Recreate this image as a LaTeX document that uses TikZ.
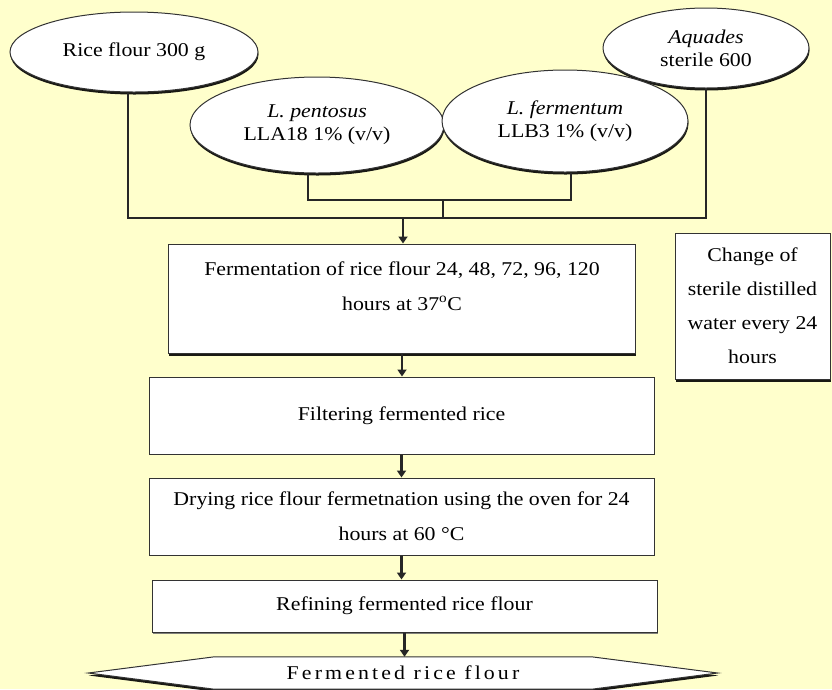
\documentclass[tikz,border=0pt]{standalone}
\usepackage{fontspec}
\setmainfont{Liberation Serif}[FakeStretch=1.12]
\usetikzlibrary{shapes.geometric,shadows,arrows.meta}
\definecolor{bgyellow}{HTML}{FFFFCC}
\definecolor{edge}{HTML}{333333}
\begin{document}
\begin{tikzpicture}[x=1pt,y=-1pt,
  darkshadow/.style={drop shadow={shadow xshift=0.5pt,shadow yshift=-2.5pt,fill=black,opacity=0.9}},
  grayshadow/.style={drop shadow={shadow xshift=0.5pt,shadow yshift=-2pt,fill=black!55,opacity=0.9}},
  oval/.style={ellipse,draw=edge,line width=1pt,fill=white,inner sep=0pt,align=center,
    font=\fontsize{19.5}{23}\selectfont,darkshadow},
  stepbox/.style={rectangle,draw=edge,line width=1pt,fill=white,inner sep=0pt,align=center,
    font=\fontsize{19.5}{35}\selectfont},
  conn/.style={line width=1.8pt,draw=black!85},
  flow/.style={line width=2.4pt,draw=black!85,-{Triangle[length=7pt,width=9pt]}},
]
\useasboundingbox (0,0) rectangle (832,689);
\fill[bgyellow] (0,0) rectangle (832,689);

% input ellipses
\node[oval,minimum width=248pt,minimum height=80pt] (rice) at (134,52) {Rice flour 300 g};
\node[oval,minimum width=206pt,minimum height=80pt] (aqua) at (706,48) {\textit{Aquades}\\sterile 600};
\node[oval,minimum width=254pt,minimum height=96pt] (pent) at (317,125) {\textit{L. pentosus}\\LLA18 1\% (v/v)};
\node[oval,minimum width=246pt,minimum height=102pt] (ferm) at (565,121) {\textit{L. fermentum}\\LLB3 1\% (v/v)};

% process boxes
\node[stepbox,darkshadow,minimum width=467pt,minimum height=109pt] (box1) at (402,298.5)
  {Fermentation of rice flour 24, 48, 72, 96, 120\\hours at 37\textsuperscript{o}C\\[-10pt]};
\node[stepbox,minimum width=505pt,minimum height=77pt] (box2) at (401.5,415.5)
  {Filtering fermented rice};
\node[stepbox,minimum width=505pt,minimum height=77pt] (box3) at (401.5,516.5)
  {Drying rice flour fermetnation using the oven for 24\\hours at 60 °C};
\node[stepbox,grayshadow,minimum width=505pt,minimum height=52pt] (box4) at (404.5,606)
  {Refining fermented rice flour};
\node[stepbox,darkshadow,minimum width=155pt,minimum height=146pt,font=\fontsize{19.5}{34}\selectfont] (change) at (752.5,306)
  {Change of\\sterile distilled\\water every 24\\hours};

% final hexagon
\node[minimum width=377pt,minimum height=32pt,inner sep=0pt] (final) at (403,673) {};
\draw[draw=edge,line width=1pt,fill=white,darkshadow]
  ([xshift=-126pt]final.west) -- (final.north west) -- (final.north east)
  -- ([xshift=126pt]final.east) -- (final.south east) -- (final.south west) -- cycle;
\node[font=\fontsize{19.5}{23}\selectfont\addfontfeature{LetterSpace=16}] (finaltext) at (final.center) {Fermented rice flour};

% connectors
\coordinate (bus) at (403,218);
\coordinate (subbus) at (443,200);
\draw[conn] ([xshift=-6pt]rice.south) |- (aqua.south |- bus) -- (aqua.south);
\draw[conn] ([xshift=-9pt]pent.south) |- ([xshift=6pt]ferm.south |- subbus) -- ([xshift=6pt]ferm.south);
\draw[conn] (subbus) -- (subbus |- bus);
\draw[flow] (bus) -- (bus |- box1.north);
\draw[flow] (box1.south) -- (box1.south |- box2.north);
\draw[flow] (box2.south) -- (box2.south |- box3.north);
\draw[flow] (box3.south) -- (box3.south |- box4.north);
\draw[flow] (box4.south) -- (box4.south |- final.north);
\end{tikzpicture}
\end{document}
